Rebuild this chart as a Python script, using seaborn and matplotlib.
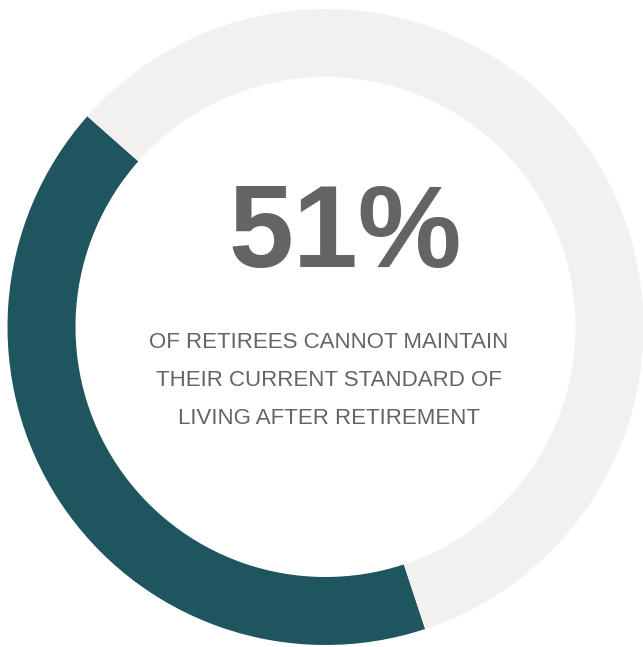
import matplotlib
matplotlib.use("Agg")
import matplotlib.pyplot as plt
import seaborn as sns

# Data
categories = ["Cannot maintain", "Other"]
shares = [41.6, 58.4]          # visual arc proportions read from the ring
colors = ["#1E555F", "#F2F1F0"]
headline = "51%"
caption_lines = ["OF RETIREES CANNOT MAINTAIN",
                 "THEIR CURRENT STANDARD OF",
                 "LIVING AFTER RETIREMENT"]

sns.set_theme(style="white")
plt.rcParams['font.family'] = ['Liberation Sans', 'DejaVu Sans']

W, H = 643, 647
fig = plt.figure(figsize=(W / 100, H / 100), dpi=100)
ax = fig.add_axes([0, 0, 1, 1])

cx, cy, r_out, r_in = 325.5, H - 327, 318, 250
ax.pie(shares, colors=colors, startangle=138.5, counterclock=True,
       radius=r_out, center=(cx, cy), frame=True,
       wedgeprops=dict(width=r_out - r_in, linewidth=0))
ax.set_xlim(0, W)
ax.set_ylim(0, H)
ax.set_aspect("auto")
ax.set_axis_off()

txt_color = "#656364"
ax.text(345, H - 237, headline, ha="center", va="center", fontsize=84,
        fontweight="bold", color=txt_color)
for i, line in enumerate(caption_lines):
    ax.text(329, H - (343 + 37.5 * i), line, ha="center", va="center",
            fontsize=16, color=txt_color)

fig.savefig("out.png", dpi=100)
